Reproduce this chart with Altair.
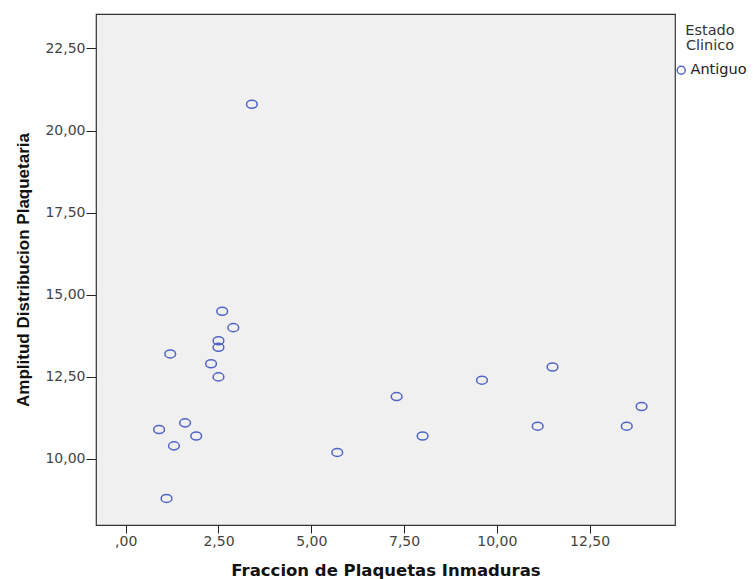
import altair as alt
import pandas as pd

# Data
fraccion = [2.6, 2.9, 2.5, 2.5, 1.2, 2.3, 2.5, 1.6, 0.9, 1.9, 1.3, 5.7, 1.1,
            9.6, 11.5, 11.1, 13.5, 13.9, 7.3, 8.0, 3.4]
amplitud = [14.5, 14.0, 13.6, 13.4, 13.2, 12.9, 12.5, 11.1, 10.9, 10.7, 10.4,
            10.2, 8.8, 12.4, 12.8, 11.0, 11.0, 11.6, 11.9, 10.7, 20.8]
estado = ["Antiguo"] * len(fraccion)

x_ticks = [0, 2.5, 5, 7.5, 10, 12.5]
y_ticks = [10, 12.5, 15, 17.5, 20, 22.5]

df = pd.DataFrame({"fpi": fraccion, "adp": amplitud, "estado": estado})

label_expr = "datum.value == 0 ? ',00' : replace(format(datum.value, '.2f'), '.', ',')"
ellipse = "M -1 0 A 1 0.75 0 1 0 1 0 A 1 0.75 0 1 0 -1 0 Z"
blue = "#5064C6"

chart = alt.Chart(df).mark_point(
    shape=ellipse, filled=False, strokeWidth=1.5, size=115, opacity=1
).encode(
    x=alt.X("fpi:Q",
            scale=alt.Scale(domain=[-0.8, 14.8], nice=False, zero=False),
            axis=alt.Axis(title="Fraccion de Plaquetas Inmaduras", values=x_ticks,
                          labelExpr=label_expr, grid=False, domain=False,
                          tickSize=8, tickColor="#222", labelColor="#444",
                          labelFont="DejaVu Sans", labelFontSize=14,
                          labelBaseline="alphabetic", labelPadding=12,
                          titleFont="DejaVu Sans", titleFontWeight="bold",
                          titleFontSize=16.5, titleColor="#111",
                          titleBaseline="alphabetic", titleX=289.5, titleY=50)),
    y=alt.Y("adp:Q",
            scale=alt.Scale(domain=[7.99, 23.55], nice=False, zero=False),
            axis=alt.Axis(title="Amplitud Distribucion Plaquetaria", values=y_ticks,
                          labelExpr=label_expr, grid=False, domain=False,
                          tickSize=10, tickColor="#222", labelColor="#444",
                          labelFont="DejaVu Sans", labelFontSize=14,
                          labelBaseline="middle", labelPadding=1,
                          titleFont="Liberation Sans", titleFontWeight="bold",
                          titleFontSize=17, titleColor="#111",
                          titleAngle=-90, titleBaseline="bottom",
                          titleX=-64, titleY=255.5)),
    color=alt.Color("estado:N",
                    scale=alt.Scale(domain=["Antiguo"], range=[blue]),
                    legend=alt.Legend(title=["Estado", "Clinico"], orient="none",
                                      legendX=578, legendY=10,
                                      titleFont="DejaVu Sans", titleFontSize=14.5,
                                      titleFontWeight="normal", titleColor="#333",
                                      titleAlign="center", titleAnchor="middle",
                                      titleLineHeight=14.5, titlePadding=10,
                                      labelFont="DejaVu Sans", labelFontSize=14.5,
                                      labelColor="#222", labelOffset=2,
                                      symbolType="circle", symbolSize=64,
                                      symbolStrokeWidth=1.5, symbolFillColor="transparent",
                                      padding=0)),
).properties(
    width=579, height=511,
    autosize=alt.AutoSizeParams(type="none"),
    padding={"left": 96, "top": 14, "right": 78, "bottom": 54},
    background="white",
).configure_view(
    fill="#F0F0F0", stroke="#333", strokeWidth=1.2
)

chart.save("out.html", embed_options={"renderer": "svg", "actions": False})
